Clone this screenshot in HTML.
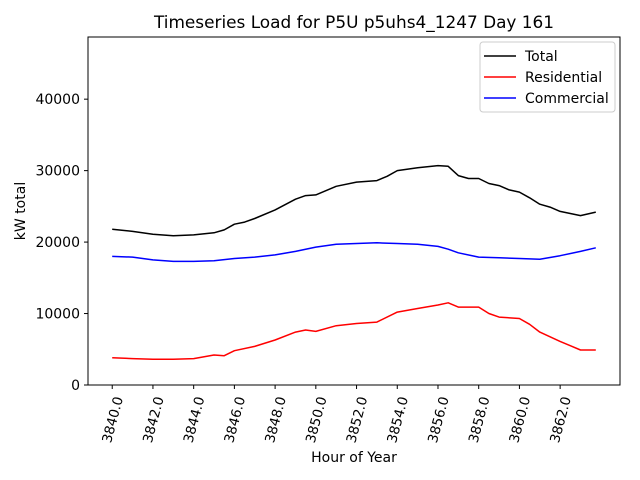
<!DOCTYPE html>
<html><head><meta charset="utf-8"><style>
body{margin:0;background:#fff}
svg{display:block;font-family:"DejaVu Sans","Liberation Sans",sans-serif}
</style></head><body>
<svg id="c" width="640" height="480"></svg>
<script>
const totalHours=[3840,3841,3842,3843,3844,3845,3845.5,3846,3846.5,3847,3848,3849,3849.5,3850,3851,3852,3853,3853.5,3854,3855,3856,3856.5,3857,3857.5,3858,3858.5,3859,3859.5,3860,3860.5,3861,3861.5,3862,3862.5,3863,3863.75];
const totalValues=[21800,21500,21100,20900,21000,21300,21700,22500,22800,23300,24500,26000,26500,26600,27800,28400,28600,29200,30000,30400,30700,30600,29300,28900,28900,28200,27900,27300,27000,26200,25300,24900,24300,24000,23700,24200];
const resHours=[3840,3841,3842,3843,3844,3845,3845.5,3846,3847,3848,3849,3849.5,3850,3851,3852,3853,3854,3855,3856,3856.5,3857,3858,3858.5,3859,3860,3860.5,3861,3862,3862.5,3863,3863.75];
const resValues=[3800,3700,3600,3600,3700,4200,4100,4800,5400,6300,7400,7700,7500,8300,8600,8800,10200,10700,11200,11500,10900,10900,10000,9500,9300,8500,7400,6100,5500,4900,4900];
const comHours=[3840,3841,3842,3843,3844,3845,3846,3847,3848,3849,3850,3851,3852,3853,3854,3855,3856,3856.5,3857,3858,3859,3860,3861,3862,3863,3863.75];
const comValues=[18000,17900,17500,17300,17300,17400,17700,17900,18200,18700,19300,19700,19800,19900,19800,19700,19400,19000,18500,17900,17800,17700,17600,18100,18700,19200];
const xTicks=[3840,3842,3844,3846,3848,3850,3852,3854,3856,3858,3860,3862];
const yTicks=[0,10000,20000,30000,40000];

const L=88,R=620,T=37,B=385,X0=3838.81,X1=3864.94,Y0=0,Y1=48700;
const sx=h=>L+(h-X0)/(X1-X0)*(R-L);
const sy=v=>B-(v-Y0)/(Y1-Y0)*(B-T);
const svg=document.getElementById('c');
const NS='http://www.w3.org/2000/svg';
function mk(tag,attrs,text){const e=document.createElementNS(NS,tag);for(const k in attrs)e.setAttribute(k,attrs[k]);if(text!==undefined)e.textContent=text;svg.appendChild(e);return e;}

function series(hs,vs,color,name){
  const p=mk('polyline',{points:hs.map((h,i)=>sx(h).toFixed(1)+','+sy(vs[i]).toFixed(1)).join(' '),fill:'none',stroke:color,'stroke-width':1.5,'stroke-linejoin':'round'});
  
  
}
series(totalHours,totalValues,'#000','total-line');
series(resHours,resValues,'#f00','residential-line');
series(comHours,comValues,'#00f','commercial-line');

const frame=mk('rect',{x:L,y:T,width:R-L,height:B-T,fill:'none',stroke:'#000','stroke-width':1});



xTicks.forEach(t=>{
  const x=sx(t);
  const tk=mk('line',{x1:x,y1:B,x2:x,y2:B+4,stroke:'#000'});
  
  
  const ax=x+7, ay=B+12;
  const lb=mk('text',{x:ax,y:ay,'font-size':13.5,'text-anchor':'end',transform:`rotate(-75 ${ax} ${ay})`,'dominant-baseline':'middle'},t.toFixed(1));
  
  
});
yTicks.forEach(t=>{
  const y=sy(t);
  const tk=mk('line',{x1:L-4,y1:y,x2:L,y2:y,stroke:'#000'});
  
  
  const lb=mk('text',{x:L-8,y:y+5,'font-size':14,'text-anchor':'end'},String(t));
  
  
});
</script>
<div style="position:absolute;left:0;top:0;width:640px;height:480px;pointer-events:none">
<svg width="640" height="480">
<text x="354" y="28" font-size="16.9" text-anchor="middle">Timeseries Load for P5U p5uhs4_1247  Day 161</text>
<text x="354" y="462" font-size="14" text-anchor="middle">Hour of Year</text>
<text x="25" y="211" font-size="14" text-anchor="middle" transform="rotate(-90 25 211)">kW total</text>
<g>
<rect x="480" y="42" width="135" height="70" rx="3" fill="#fff" fill-opacity="0.8" stroke="#ccc"/>
<line x1="484" y1="56" x2="516" y2="56" stroke="#000" stroke-width="1.5"/>
<text x="525" y="61" font-size="14">Total</text>
<line x1="484" y1="77" x2="516" y2="77" stroke="#f00" stroke-width="1.5"/>
<text x="525" y="82" font-size="14">Residential</text>
<line x1="484" y1="98" x2="516" y2="98" stroke="#00f" stroke-width="1.5"/>
<text x="525" y="103" font-size="14">Commercial</text>
</g>
</svg></div>
</body></html>
